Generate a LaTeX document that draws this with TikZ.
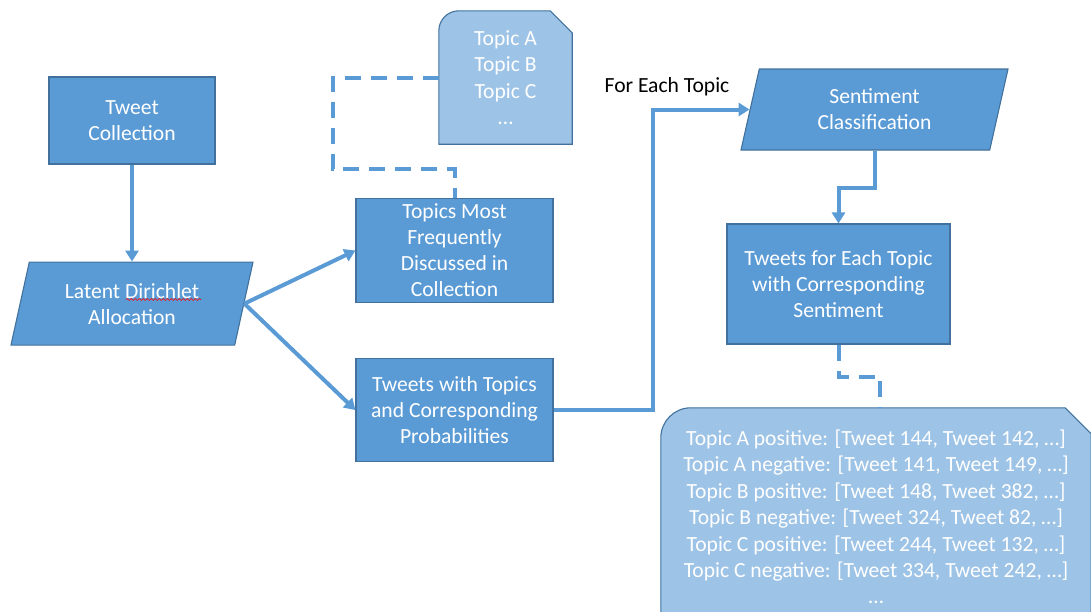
\documentclass[tikz,border=0pt]{standalone}
\usepackage{fontspec}
\setmainfont{Carlito}
\usetikzlibrary{shapes.geometric,positioning,arrows.meta,backgrounds,decorations.pathmorphing}

\definecolor{boxblue}{HTML}{5B9BD5}
\definecolor{boxedge}{HTML}{41719C}
\definecolor{notefill}{HTML}{9DC3E6}

\tikzset{
  box/.style={draw=boxedge, line width=1.1pt, fill=boxblue, text=white, align=center,
    font=\fontsize{21.6}{26}\selectfont, inner sep=0pt},
  process/.style={box, rectangle},
  io/.style={box, trapezium, trapezium left angle=66, trapezium right angle=114,
    trapezium stretches body=true},
  note/.style={rectangle, text=white, align=center, font=\fontsize{21.6}{26.4}\selectfont, inner sep=0pt},
  notefill/.style={draw=boxedge, line width=1.1pt, fill=notefill},
  link/.style={draw=boxblue, line width=4pt, -{Triangle[width=13pt,length=11pt]}},
  dashlink/.style={draw=boxblue, line width=4pt, dash pattern=on 16pt off 10pt},
}

\begin{document}
\begin{tikzpicture}[x=1pt, y=1pt]
  \useasboundingbox (0,0) rectangle (1091,-611);
  \clip (0,0) rectangle (1091,-611);

  % left column
  \node[process, minimum width=166pt, minimum height=87pt] (collection) at (132,-120.5) {Tweet\\Collection};
  \node[io, minimum width=242pt, minimum height=83pt, below=97pt of collection] (lda) {Latent Dirichlet\\Allocation};
  \draw[red, line width=0.6pt, decorate, decoration={snake, amplitude=1pt, segment length=4pt}]
    (126,-299.5) -- (201,-299.5);

  % LDA outputs
  \node[process, minimum width=197pt, minimum height=104pt] (topics) at (454.5,-250.5)
    {Topics Most\\Frequently\\Discussed in\\Collection};
  \node[process, minimum width=197pt, minimum height=103pt, below=55pt of topics] (tweettopics)
    {Tweets with Topics\\and Corresponding\\Probabilities};
  \node[note, minimum width=133pt, minimum height=133pt] (topiclist) at (505.5,-77.5)
    {Topic A\\Topic B\\Topic C\\\dots};

  % sentiment column
  \node[io, minimum width=267pt, minimum height=81pt] (sentiment) at (874.5,-109.5)
    {Sentiment\\Classification};
  \node[process, minimum width=223pt, minimum height=120pt] (tweetsent) at (838.5,-284)
    {Tweets for Each Topic\\with Corresponding\\Sentiment};
  \node[note, minimum width=430pt, minimum height=218pt] (sentlist) at (876,-517)
    {Topic A positive: [Tweet 144, Tweet 142, \dots]\\
     Topic A negative: [Tweet 141, Tweet 149, \dots]\\
     Topic B positive: [Tweet 148, Tweet 382, \dots]\\
     Topic B negative: [Tweet 324, Tweet 82, \dots]\\
     Topic C positive: [Tweet 244, Tweet 132, \dots]\\
     Topic C negative: [Tweet 334, Tweet 242, \dots]\\
     \dots};
  \node[font=\fontsize{21.6}{24}\selectfont] (foreach) at (667,-87) {For Each Topic};

  % note outlines: rounded top left, cut top right
  \begin{pgfonlayer}{background}
    \path[notefill] (topiclist.south west) -- ([yshift=-20pt]topiclist.north west)
      arc[start angle=180, end angle=90, radius=20pt] -- ([xshift=-22pt]topiclist.north east)
      -- ([yshift=-22pt]topiclist.north east) -- (topiclist.south east) -- cycle;
    \path[notefill] (sentlist.south west) -- ([yshift=-30pt]sentlist.north west)
      arc[start angle=180, end angle=90, radius=30pt] -- ([xshift=-26pt]sentlist.north east)
      -- ([yshift=-26pt]sentlist.north east) -- (sentlist.south east) -- cycle;
  \end{pgfonlayer}

  % connectors
  \draw[link] (collection.south) -- (collection.south |- lda.north);
  \draw[link] (lda.east) -- (topics.west);
  \draw[link] (lda.east) -- (tweettopics.west);
  \draw[link] (tweettopics.east) -- ++(99.5,0) |- (sentiment.west);
  \draw[link] (sentiment.south) -- ++(0,-37) -| (tweetsent.north);
  \draw[dashlink] (topiclist.west) -- ++(-106,0) |- ([yshift=29pt]topics.north) -- (topics.north);
  \draw[dashlink] (tweetsent.south) -- ++(0,-32) -| ([xshift=4pt]sentlist.north);
\end{tikzpicture}
\end{document}
